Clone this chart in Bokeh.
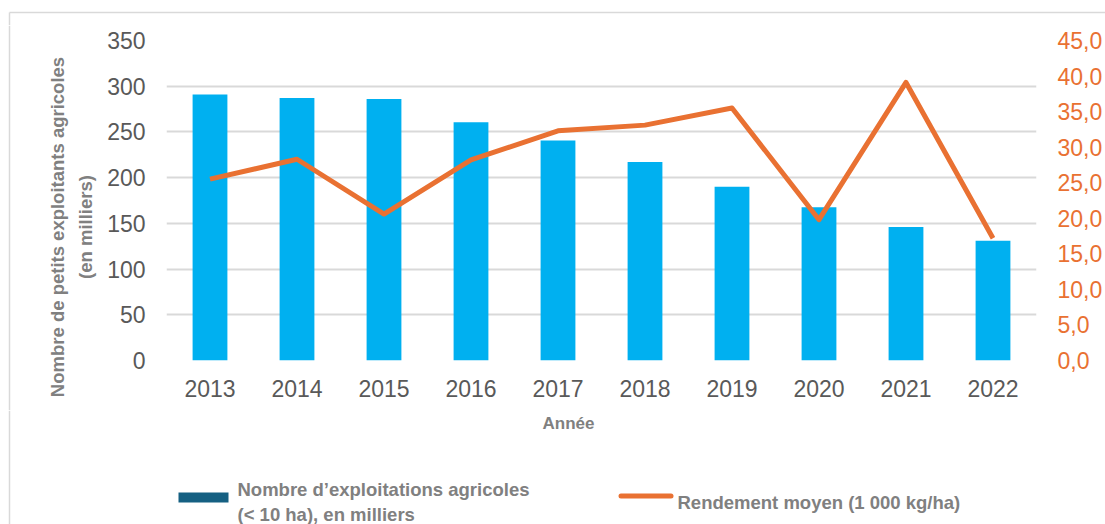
import math
from bokeh.plotting import figure
from bokeh.layouts import column, row
from bokeh.models import FactorRange, Range1d, LinearAxis, FixedTicker
from bokeh.core.properties import value
from bokeh.embed import file_html
from bokeh.resources import INLINE

years = ["2013", "2014", "2015", "2016", "2017", "2018", "2019", "2020", "2021", "2022"]
farms = [291, 287, 286, 260.5, 240.5, 217, 190, 167.5, 146, 131]
yields = [25.5, 28.3, 20.6, 28.2, 32.3, 33.1, 35.5, 19.8, 39.1, 17.2]
left_ticks = [0, 50, 100, 150, 200, 250, 300, 350]
right_ticks = [0, 5, 10, 15, 20, 25, 30, 35, 40, 45]
right_tick_labels = ["0,0", "5,0", "10,0", "15,0", "20,0", "25,0", "30,0", "35,0", "40,0", "45,0"]

y_title_1 = "Nombre de petits exploitants agricoles"
y_title_2 = "(en milliers)"
x_title = "Année"
legend_bar_1 = "Nombre d\u2019exploitations agricoles"
legend_bar_2 = "(< 10 ha), en milliers"
legend_line = "Rendement moyen (1 000 kg/ha)"

BAR = "#00B0F0"
LEGEND_BAR = "#156082"
ORANGE = "#E97132"
GRID = "#D9D9D9"
TICK = "#595959"
TITLE = "#808080"
FONT = "Liberation Sans"

W, H = 1105, 524
TOP_H = 25          # strip holding the top border line
MID_H = 385         # chart row
BOT_H = H - TOP_H - MID_H
LEFT_W = 100


def blank(w, h):
    f = figure(width=w, height=h, x_range=Range1d(0, w), y_range=Range1d(0, h),
               output_backend="svg", toolbar_location=None, min_border=0, frame_align=False)
    f.axis.visible = False
    f.grid.visible = False
    f.outline_line_color = None
    f.background_fill_color = "white"
    f.border_fill_color = "white"
    return f


# ---- top strip: chart border
top = blank(W, TOP_H)
top.line(x=[9, W], y=[TOP_H - 12, TOP_H - 12], line_color=GRID, line_width=1.5)
top.line(x=[9, 9], y=[TOP_H - 12, 0], line_color=GRID, line_width=1.5)

# ---- left strip: y axis title
left = blank(LEFT_W, MID_H)
left.line(x=[9, 9], y=[0, MID_H], line_color=GRID, line_width=1.5)
cy = MID_H - (226.5 - TOP_H)
left.text(x=[56.5], y=[cy], text=[y_title_1], angle=math.pi / 2, text_align="center",
          text_baseline="middle", text_font=value(FONT), text_font_style="bold",
          text_font_size="18.5px", text_color=TITLE)
left.text(x=[84.5], y=[cy], text=[y_title_2], angle=math.pi / 2, text_align="center",
          text_baseline="middle", text_font=value(FONT), text_font_style="bold",
          text_font_size="18.5px", text_color=TITLE)

# ---- main chart
p = figure(width=W - LEFT_W, height=MID_H, x_range=FactorRange(*years), y_range=Range1d(0, 350),
           output_backend="svg", toolbar_location=None, frame_align=False,
           min_border_left=166 - LEFT_W, min_border_right=69, min_border_top=40 - TOP_H,
           min_border_bottom=TOP_H + MID_H - 360)
p.outline_line_color = None
p.background_fill_color = "white"
p.border_fill_color = "white"
p.extra_y_ranges = {"r": Range1d(0, 45)}

p.vbar(x=years, top=farms, width=0.4, color=BAR, line_color=None)
p.line(x=years, y=yields, y_range_name="r", line_color=ORANGE, line_width=5, line_join="round")

raxis = LinearAxis(y_range_name="r", ticker=FixedTicker(ticks=right_ticks),
                   major_label_overrides={t: l for t, l in zip(right_ticks, right_tick_labels)})
p.add_layout(raxis, "right")

laxis = p.left[0]
laxis.ticker = FixedTicker(ticks=left_ticks)

for ax in [laxis, raxis, p.xaxis[0]]:
    ax.axis_line_color = None
    ax.major_tick_line_color = None
    ax.minor_tick_line_color = None
    ax.major_tick_out = 0
    ax.major_tick_in = 0
    ax.major_label_text_font = FONT
    ax.major_label_text_font_size = "23px"
    ax.major_label_text_color = TICK
laxis.major_label_standoff = 21
raxis.major_label_standoff = 21
raxis.major_label_text_color = ORANGE
p.xaxis[0].major_label_standoff = 19

p.xgrid.grid_line_color = None
p.ygrid.grid_line_color = GRID
p.ygrid.grid_line_width = 1.8

# ---- bottom strip: x title and legend
bot = blank(W, BOT_H)
OY = TOP_H + MID_H


def by(page_y):
    return BOT_H - (page_y - OY)


bot.line(x=[9, 9], y=[0, BOT_H], line_color=GRID, line_width=1.5)
bot.text(x=[568], y=[by(422.5)], text=[x_title], text_align="center", text_baseline="middle",
         text_font=value(FONT), text_font_style="bold", text_font_size="17px", text_color=TITLE)
bot.quad(left=[178], right=[228], top=[by(492)], bottom=[by(502)], fill_color=LEGEND_BAR, line_color=None)
bot.line(x=[620.5, 670.5], y=[by(495.5), by(495.5)], line_color=ORANGE, line_width=5, line_cap="round")
bot.text(x=[237, 237, 677], y=[by(489), by(514), by(502)], text=[legend_bar_1, legend_bar_2, legend_line],
         text_align="left", text_baseline="alphabetic", text_font=value(FONT), text_font_style="bold",
         text_font_size="18.5px", text_color=TITLE)

layout = column(top, row(left, p, spacing=0), bot, spacing=0)
open("out.html", "w").write(file_html(layout, INLINE))
